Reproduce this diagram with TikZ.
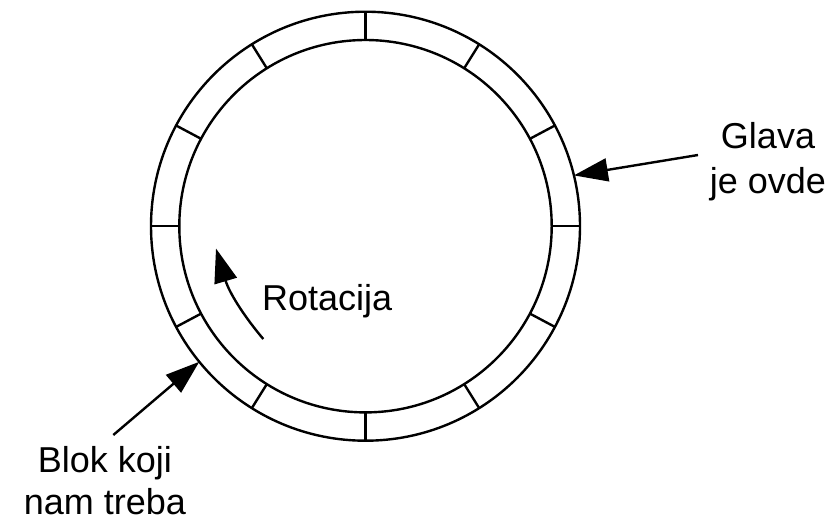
\documentclass[tikz,border=0pt]{standalone}
\usepackage{fontspec}
\setmainfont{Liberation Sans}
\usetikzlibrary{arrows.meta}
\begin{document}
\begin{tikzpicture}[x=1pt,y=-1pt,
  ring/.style={line width=2.4pt},
  pointer/.style={line width=2.4pt,-{Triangle[length=34pt,width=23pt]}},
  label/.style={font=\fontsize{36pt}{44pt}\selectfont,inner sep=0pt}]
\useasboundingbox (0,0) rectangle (835,520);
\coordinate (c) at (365.5,226.2);
\draw[ring] (c) circle[radius=214.5pt];
\draw[ring] (c) circle[radius=186.2pt];
\foreach \a in {90,58,28,0,-28,-58,-90,-122,-152,180,152,122}
  \draw[ring] ([shift={(\a:186.2pt)}]c) -- ([shift={(\a:214.5pt)}]c);
% labels
\node[label,font=\fontsize{36pt}{45pt}\selectfont,anchor=base,align=center] (glava) at (768,193.5) {Glava\\je ovde};
\node[label,font=\fontsize{36pt}{42pt}\selectfont,anchor=base,align=center] (blok) at (105,514.5) {Blok koji\\nam treba};
\node[label,anchor=base west] (rot) at (262,310) {Rotacija};
% arrows
\coordinate (gtail) at (698,155);
\coordinate (gtip) at ([shift={(13.7:214.5pt)}]c);
\coordinate (btail) at (113.3,435);
\coordinate (btip) at ([shift={(219.2:214.5pt)}]c);
\coordinate (rtail) at (263.3,339);
\coordinate (rtip) at (216,248.5);
\draw[pointer] (gtail) -- (gtip);
\draw[pointer] (btail) -- (btip);
\draw[pointer] (rtail) .. controls (243,315) and (229,292) .. (rtip);
\end{tikzpicture}
\end{document}
